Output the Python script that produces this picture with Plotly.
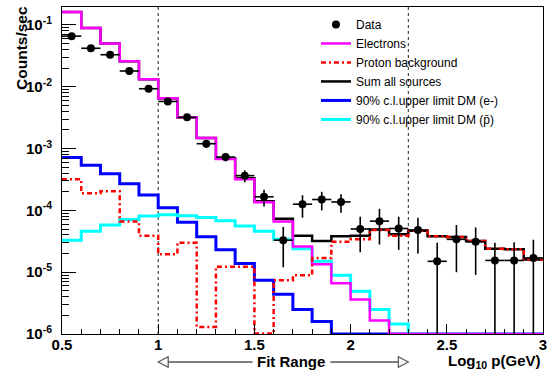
import plotly.graph_objects as go

# ---------------- data ----------------
bin_edges = [round(0.5 + 0.1 * i, 2) for i in range(26)]          # log10 p bins 0.5..3.0
bin_centers = [round(0.55 + 0.1 * i, 2) for i in range(25)]

data_counts = [0.066, 0.042, 0.033, 0.018, 0.0093, 0.0058, 0.0032, 0.0012, 7.3e-4, 3.65e-4,
               1.66e-4, 3.3e-5, 1.26e-4, 1.5e-4, 1.37e-4, 5.0e-5, 6.7e-5, 5.1e-5, 4.8e-5, 1.5e-5,
               3.4e-5, 3.1e-5, 1.55e-5, 1.55e-5, 1.7e-5]
data_err = [0.002, 0.0015, 0.0012, 0.0009, 0.0006, 0.0005, 0.0003, 0.00018, 1.1e-4, 8e-5,
            5e-5, 2.1e-5, 5e-5, 5e-5, 4.5e-5, 2.9e-5, 3.9e-5, 2.8e-5, 2.8e-5, 1.5e-5,
            2.4e-5, 2.2e-5, 1.45e-5, 1.5e-5, 1.65e-5]

electrons = [0.162, 0.089, 0.050, 0.026, 0.0133, 0.0065, 0.0032, 0.00148, 6.8e-4, 3.2e-4,
             1.35e-4, 6.6e-5, 2.6e-5, 1.35e-5, 6.6e-6, 3.6e-6, 1.65e-6, 0, 0, 0,
             0, 0, 0, 0, 0]
protons = [3.2e-4, 1.9e-4, 2.05e-4, 6.6e-5, 3.9e-5, 1.96e-5, 3.0e-5, 1.3e-6, 1.23e-5, 1.23e-5,
           1.02e-6, 7.4e-6, 8.9e-6, 1.7e-5, 3.1e-5, 3.4e-5, 4.8e-5, 3.9e-5, 4.7e-5, 3.8e-5,
           3.7e-5, 3.2e-5, 2.4e-5, 2.35e-5, 1.6e-5]
sum_all = [0.162, 0.089, 0.050, 0.026, 0.0133, 0.0065, 0.0032, 0.00148, 6.9e-4, 3.3e-4,
           1.4e-4, 7.3e-5, 3.9e-5, 3.2e-5, 3.8e-5, 3.9e-5, 4.9e-5, 4.1e-5, 4.7e-5, 3.8e-5,
           3.7e-5, 3.2e-5, 2.4e-5, 2.35e-5, 1.6e-5]
dm_electron = [7.2e-4, 5.4e-4, 3.9e-4, 2.7e-4, 1.78e-4, 1.1e-4, 6.4e-5, 3.76e-5, 2.3e-5, 1.38e-5,
               7.4e-6, 4.4e-6, 2.5e-6, 1.6e-6, 0, 0, 0, 0, 0, 0,
               0, 0, 0, 0, 0]
dm_pbar = [3.3e-5, 4.6e-5, 5.8e-5, 7.1e-5, 8.1e-5, 8.5e-5, 8.2e-5, 7.7e-5, 6.8e-5, 5.6e-5,
           4.6e-5, 3.4e-5, 2.4e-5, 1.5e-5, 8.9e-6, 4.9e-6, 2.5e-6, 1.45e-6, 0, 0,
           0, 0, 0, 0, 0]

y_tick_vals = [1e-6, 1e-5, 1e-4, 1e-3, 1e-2, 1e-1]
y_tick_text = ["10<sup>-6</sup>", "10<sup>-5</sup>", "10<sup>-4</sup>",
               "10<sup>-3</sup>", "10<sup>-2</sup>", "10<sup>-1</sup>"]
FIT_LO, FIT_HI = 1.0, 2.3
Y_MIN = 1e-6

FONT = "Liberation Sans, Arial, sans-serif"


def hist_y(vals):
    # ROOT draws empty bins along the bottom of a log axis
    v = [max(x, Y_MIN) for x in vals]
    return v + [v[-1]]


fig = go.Figure()

hists = [
    ("Sum all sources", sum_all, "black", 2.5, "solid", 4),
    ("90% c.l.upper limit DM (e-)", dm_electron, "#0000ff", 3, "solid", 5),
    ("90% c.l.upper limit DM (p\u0304)", dm_pbar, "#00ffff", 3, "solid", 6),
    ("Electrons", electrons, "#ff00ff", 2.5, "solid", 2),
    ("Proton background", protons, "#ff0000", 2.5, "5px,3px,2px,3px", 3),
]
for name, vals, col, w, dash, rank in hists:
    fig.add_trace(go.Scatter(
        x=bin_edges, y=hist_y(vals), mode="lines", name=name,
        line=dict(color=col, width=w, dash=dash, shape="hv"),
        legendrank=rank,
    ))

fig.add_trace(go.Scatter(
    x=bin_centers, y=data_counts, mode="markers", name="Data",
    marker=dict(color="black", size=8),
    error_y=dict(type="data", array=data_err, color="black", thickness=1.6, width=0),
    error_x=dict(type="constant", value=0.05, color="black", thickness=1.6, width=0),
    legendrank=1,
))

# fit range guide lines
for xv in (FIT_LO, FIT_HI):
    fig.add_shape(type="line", xref="x", yref="paper", x0=xv, x1=xv, y0=0, y1=1,
                  line=dict(color="#222", width=1, dash="dot"), layer="below")

# fit range arrow below the axis
ya = -0.0855
h = 0.016
grey = "#555"
tip = 0.052
fig.add_shape(type="path", xref="x", yref="paper",
              path=f"M {FIT_LO} {ya} L {FIT_LO + tip} {ya + h} L {FIT_LO + tip} {ya - h} Z",
              line=dict(color=grey, width=1.2), fillcolor="white")
fig.add_shape(type="path", xref="x", yref="paper",
              path=f"M {FIT_HI} {ya} L {FIT_HI - tip} {ya + h} L {FIT_HI - tip} {ya - h} Z",
              line=dict(color=grey, width=1.2), fillcolor="white")
fig.add_shape(type="line", xref="x", yref="paper", x0=FIT_LO + tip, x1=1.49, y0=ya, y1=ya,
              line=dict(color=grey, width=1.5))
fig.add_shape(type="line", xref="x", yref="paper", x0=1.895, x1=FIT_HI - tip, y0=ya, y1=ya,
              line=dict(color=grey, width=1.5))
fig.add_annotation(text="<b>Fit Range</b>", xref="x", yref="paper", x=1.69, y=ya,
                   showarrow=False, font=dict(family=FONT, size=15, color="black"),
                   xanchor="center", yanchor="middle")

fig.add_annotation(text="<b>Log<sub>10</sub> p(GeV)</b>", xref="paper", yref="paper",
                   x=1.0, y=-0.083, xanchor="right", yanchor="middle", showarrow=False,
                   font=dict(family=FONT, size=15, color="black"))
fig.add_annotation(text="<b>Counts/sec</b>", xref="paper", yref="paper",
                   x=-0.083, y=0.875, xanchor="center", yanchor="middle", textangle=-90,
                   showarrow=False, font=dict(family=FONT, size=15.5, color="black"))

fig.update_xaxes(
    range=[0.5, 3.0], showgrid=False, zeroline=False,
    showline=True, linecolor="black", linewidth=1, mirror=True,
    ticks="inside", ticklen=10, tickcolor="black", tickwidth=1,
    tick0=0.5, dtick=0.5,
    minor=dict(ticks="inside", ticklen=5, dtick=0.1, tickcolor="black", showgrid=False),
    tickfont=dict(family=FONT, size=15, color="black", weight="bold"),
    ticklabelstandoff=-3,
)
fig.update_yaxes(
    type="log", range=[-6, -0.709], showgrid=False, zeroline=False,
    showline=True, linecolor="black", linewidth=1, mirror=True,
    ticks="inside", ticklen=14, tickcolor="black", tickwidth=1,
    tickvals=y_tick_vals, ticktext=y_tick_text,
    minor=dict(ticks="inside", ticklen=7, dtick="D1", tickcolor="black", showgrid=False),
    tickfont=dict(family=FONT, size=15, color="black", weight="bold"),
    ticklabelstandoff=6,
)

fig.update_layout(
    width=552, height=377,
    margin=dict(l=62, r=9, t=7, b=43, autoexpand=False),
    paper_bgcolor="white", plot_bgcolor="white",
    showlegend=True,
    legend=dict(x=0.528, y=0.991, xanchor="left", yanchor="top",
                bgcolor="rgba(0,0,0,0)", borderwidth=0,
                font=dict(family=FONT, size=12, color="black"),
                tracegroupgap=0),
)

fig.write_html("out.html", config={"displayModeBar": False},
               post_script="document.body.style.margin='0';document.body.style.padding='0';")
